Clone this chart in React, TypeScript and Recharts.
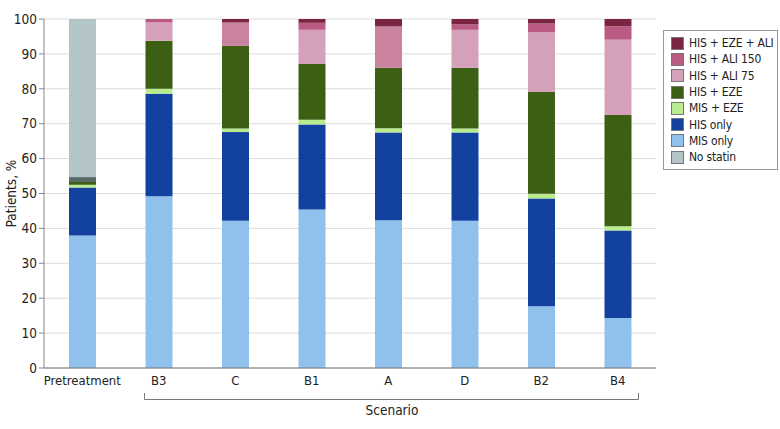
import React from "react";
import { BarChart, Bar, XAxis, YAxis, CartesianGrid, Cell } from "recharts";

const CATEGORIES = ["Pretreatment", "B3", "C", "B1", "A", "D", "B2", "B4"];
const MIS_ONLY = [38, 49.2, 42.2, 45.4, 42.3, 42.2, 17.7, 14.3];
const HIS_ONLY = [13.7, 29.4, 25.4, 24.4, 25.2, 25.3, 30.9, 25.1];
const MIS_EZE = [0.8, 1.4, 1.0, 1.3, 1.2, 1.1, 1.3, 1.2];
const HIS_EZE = [0.8, 13.8, 23.7, 16.0, 17.3, 17.4, 29.2, 31.9];
const OTHER = [1.4, 0, 0, 0, 0, 0, 0, 0];
const NO_STATIN = [45.3, 0, 0, 0, 0, 0, 0, 0];
const HIS_ALI75 = [0, 5.2, 6.7, 9.8, 11.9, 10.9, 17.1, 21.6];
const HIS_ALI150 = [0, 1.0, 0, 2.0, 0, 1.6, 2.5, 3.8];
const HIS_EZE_ALI = [0, 0, 1.0, 1.1, 2.1, 1.5, 1.3, 2.1];
const Y_TICKS = [0, 10, 20, 30, 40, 50, 60, 70, 80, 90, 100];

// bottom to top
const SERIES = [
  { key: "mis", name: "MIS only", values: MIS_ONLY, color: "#8fc1ec" },
  { key: "his", name: "HIS only", values: HIS_ONLY, color: "#1241a0" },
  { key: "misEze", name: "MIS + EZE", values: MIS_EZE, color: "#b9ec8f" },
  { key: "hisEze", name: "HIS + EZE", values: HIS_EZE, color: "#3d5f14" },
  { key: "other", name: "", values: OTHER, color: "#5b6b68" },
  { key: "none", name: "No statin", values: NO_STATIN, color: "#b3c5c6" },
  { key: "ali75", name: "HIS + ALI 75", values: HIS_ALI75, color: "#d5a0ba" },
  { key: "ali150", name: "HIS + ALI 150", values: HIS_ALI150, color: "#b95b82" },
  { key: "ezeAli", name: "HIS + EZE + ALI", values: HIS_EZE_ALI, color: "#7b2641" },
];

const LEGEND_ORDER = ["ezeAli", "ali150", "ali75", "hisEze", "misEze", "his", "mis", "none"];
// some scenarios show a deeper shade of the ALI 75 segment
const ALI75_DEEP = ["C", "A"];

const rows = CATEGORIES.map((cat, i) => {
  const row: Record<string, string | number> = { cat };
  SERIES.forEach((s) => (row[s.key] = s.values[i]));
  return row;
});

const FONT = "'DejaVu Sans Condensed', Roboto, sans-serif";

export default function App() {
  return (
    <div style={{ position: "absolute", left: 0, top: 0, width: 780, height: 429, background: "#fff", fontFamily: FONT }}>
      <BarChart
        width={780}
        height={429}
        data={rows}
        margin={{ top: 19, right: 124, bottom: 31, left: 0 }}
        style={{ fontFamily: FONT }}
      >
        <CartesianGrid vertical={false} stroke="#dcdcdc" />
        <XAxis
          dataKey="cat"
          tickLine={false}
          axisLine={{ stroke: "#777" }}
          tick={{ fill: "#222", fontSize: 13 }}
          interval={0}
        />
        <YAxis
          width={44}
          domain={[0, 100]}
          ticks={Y_TICKS}
          interval={0}
          tickSize={5}
          axisLine={{ stroke: "#888" }}
          tickLine={{ stroke: "#888" }}
          tick={{ fill: "#222", fontSize: 13.5 }}
          label={{ value: "Patients, %", angle: -90, position: "insideLeft", dx: 6, style: { textAnchor: "middle", fill: "#222", fontSize: 13.5 } }}
        />
        {SERIES.map((s) => (
          <Bar key={s.key} dataKey={s.key} stackId="a" fill={s.color} barSize={27} isAnimationActive={false}>
            {s.key === "ali75"
              ? CATEGORIES.map((c) => <Cell key={c} fill={ALI75_DEEP.includes(c) ? "#c9839f" : s.color} />)
              : null}
          </Bar>
        ))}
      </BarChart>

      <svg width={780} height={429} style={{ position: "absolute", left: 0, top: 0, pointerEvents: "none" }}>
        <path d="M144.5 393 V399.5 H638.5 V393" fill="none" stroke="#777" strokeWidth={1} />
        <text x={392} y={415} textAnchor="middle" fontSize={13.5} fill="#222" fontFamily={FONT}>
          Scenario
        </text>
      </svg>

      <div
        style={{
          position: "absolute",
          left: 663,
          top: 30,
          width: 115,
          border: "1px solid #999",
          padding: "4px 0 4px 7px",
          boxSizing: "border-box",
          fontSize: 12,
          letterSpacing: -0.2,
          lineHeight: 1,
          color: "#222",
        }}
      >
        {LEGEND_ORDER.map((k) => {
          const s = SERIES.find((x) => x.key === k)!;
          return (
            <div key={k} style={{ display: "flex", alignItems: "center", height: 16.3 }}>
              <span
                style={{
                  display: "inline-block",
                  width: 11,
                  height: 11,
                  flexShrink: 0,
                  background: s.color,
                  border: "1px solid #777",
                  marginRight: 5,
                }}
              />
              <span style={{ whiteSpace: "nowrap" }}>{s.name}</span>
            </div>
          );
        })}
      </div>
    </div>
  );
}
